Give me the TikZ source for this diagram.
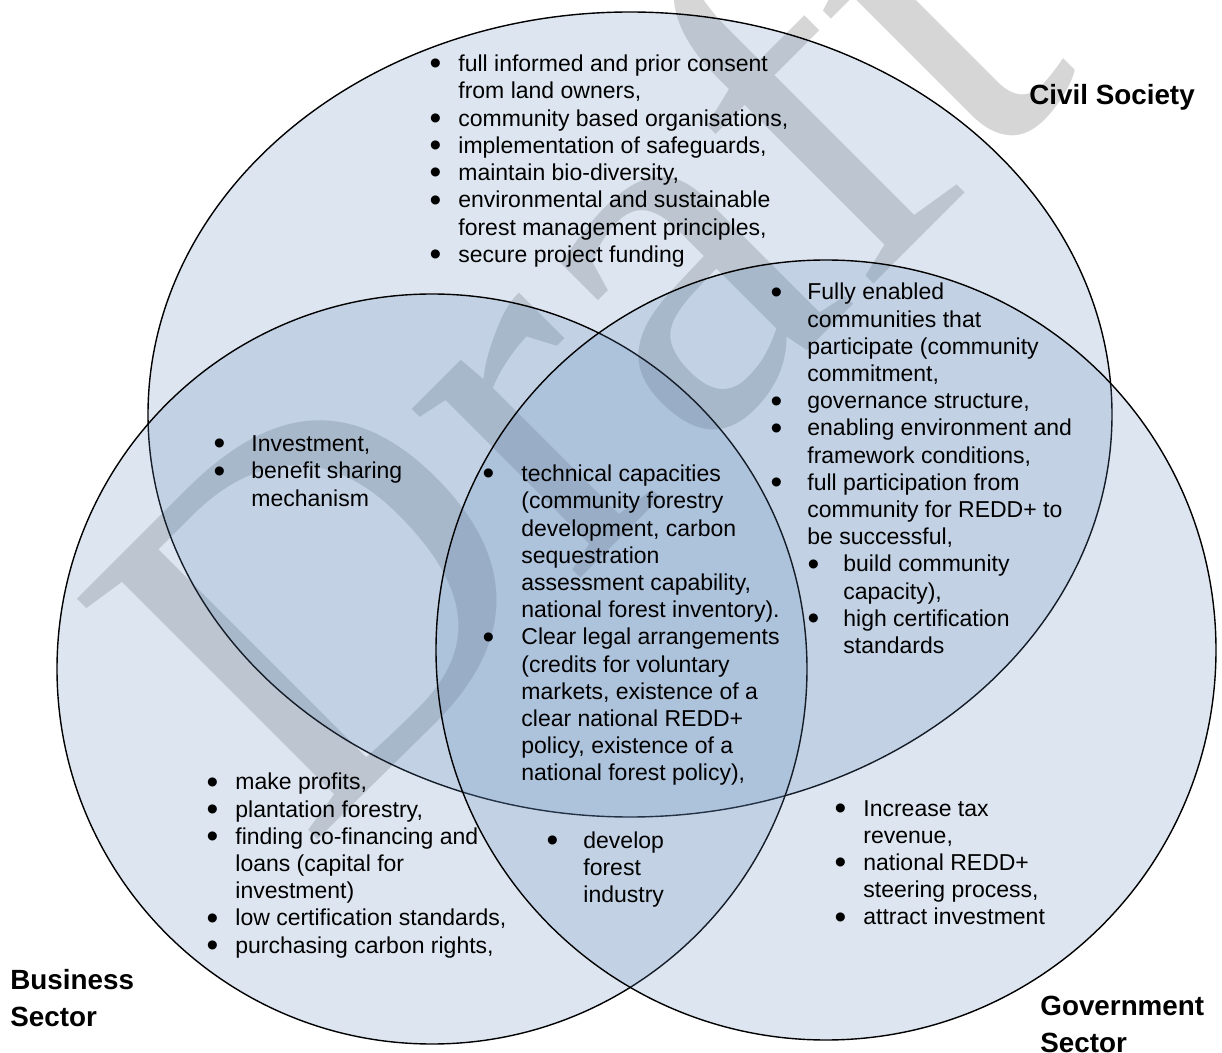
\documentclass[tikz,border=0pt]{standalone}
\usepackage{fontspec}
\usepackage{graphicx}
\setmainfont{Liberation Sans}
\newfontfamily\wmfont{Liberation Serif}
\definecolor{vennfill}{RGB}{95,135,185}
% bullet hung to the left of the text, #1 = gap between bullet and text
\newcommand{\dotmark}{\raisebox{-0.14em}{\scalebox{1.45}{\textbullet}}}
\newcommand{\bi}[1][11.5pt]{\llap{\makebox[0pt]{\dotmark}\hspace{#1}}}
\newcommand{\blist}[1]{\begin{tabular}[t]{@{}l@{}}#1\end{tabular}}
\begin{document}
\begin{tikzpicture}[x=0.5pt,y=-0.5pt,line join=round,
  venn/.style={draw=black,line width=0.7pt,fill=vennfill,fill opacity=0.21},
  items/.style={anchor=base west,inner sep=0pt,font=\fontsize{11.5}{13.6}\selectfont},
  sector/.style={anchor=base west,inner sep=0pt,font=\fontsize{13.9}{18.5}\selectfont\bfseries}]
\useasboundingbox (0,0) rectangle (1222,1053);
% watermark
\node[rotate=45,text=black,opacity=0.16,inner sep=0pt,font=\fontsize{260}{260}\wmfont] (wm) at (568,335) {Draft};
% the three sectors
\coordinate (civ) at (630,414.5);
\coordinate (bus) at (432,669);
\coordinate (gov) at (826,650);
\draw[venn] (civ) ellipse [x radius=241pt,y radius=201.25pt];
\draw[venn] (bus) circle [radius=187.5pt];
\draw[venn] (gov) circle [radius=195pt];
% sector names
\node[sector] (civname) at (1029,105) {Civil Society};
\node[sector] (busname) at (10,989) {\blist{Business\\ Sector}};
\node[sector] (govname) at (1040,1015) {\blist{Government\\ Sector}};
% civil society only
\node[items,font=\fontsize{11.5}{13.65}\selectfont] (civlist) at (458,71.5) {\blist{%
\bi full informed and prior consent\\
from land owners,\\
\bi community based organisations,\\
\bi implementation of safeguards,\\
\bi maintain bio-diversity,\\
\bi environmental and sustainable\\
forest management principles,\\
\bi secure project funding}};
% civil society and government
\node[items] (civgovlist) at (807,300) {\blist{%
\bi[15.5pt]Fully enabled\\
communities that\\
participate (community\\
commitment,\\
\bi[15.5pt]governance structure,\\
\bi[15.5pt]enabling environment and\\
framework conditions,\\
\bi[15.5pt]full participation from\\
community for REDD+ to\\
be successful,\\
\hspace*{18pt}\bi[15pt]build community\\
\hspace*{18pt}capacity),\\
\hspace*{18pt}\bi[15pt]high certification\\
\hspace*{18pt}standards}};
% civil society and business
\node[items] (civbuslist) at (251,451.7) {\blist{%
\bi[16pt]Investment,\\
\bi[16pt]benefit sharing\\
mechanism}};
% all three
\node[items] (alllist) at (521,481.7) {\blist{%
\bi[16.5pt]technical capacities\\
(community forestry\\
development, carbon\\
sequestration\\
assessment capability,\\
national forest inventory).\\
\bi[16.5pt]Clear legal arrangements\\
(credits for voluntary\\
markets, existence of a\\
clear national REDD+\\
policy, existence of a\\
national forest policy),}};
% business only
\node[items] (buslist) at (235,790) {\blist{%
\bi make profits,\\
\bi plantation forestry,\\
\bi finding co-financing and\\
loans (capital for\\
investment)\\
\bi low certification standards,\\
\bi purchasing carbon rights,}};
% business and government
\node[items] (busgovlist) at (583,848) {\blist{%
\bi[15.5pt]develop\\
forest\\
industry}};
% government only
\node[items] (govlist) at (863,816) {\blist{%
\bi Increase tax\\
revenue,\\
\bi national REDD+\\
steering process,\\
\bi attract investment}};
\end{tikzpicture}
\end{document}
